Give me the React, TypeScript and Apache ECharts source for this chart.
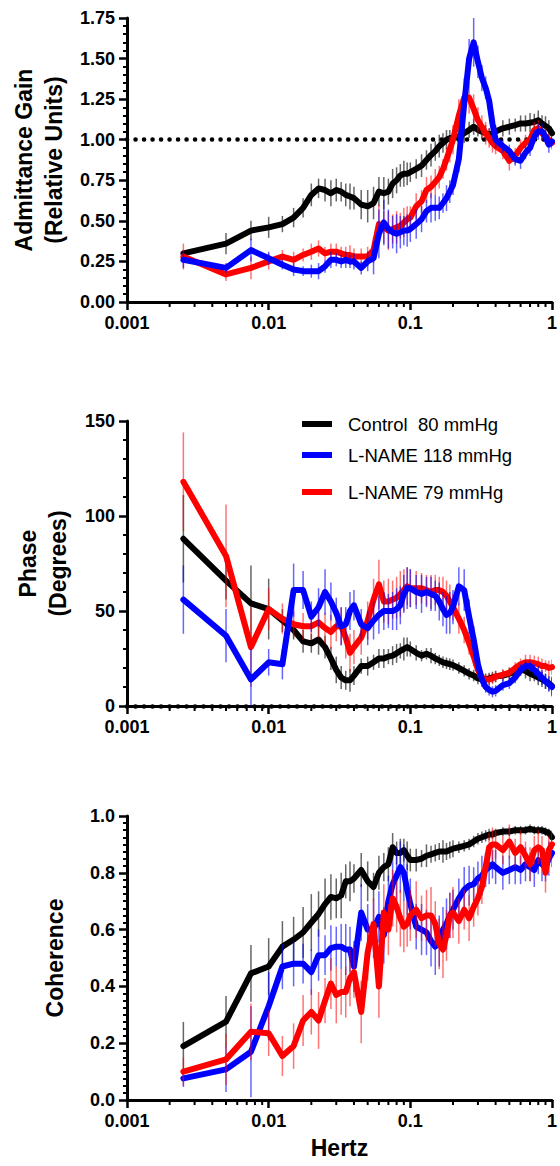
import React, { useEffect, useRef } from "react";
import * as echarts from "echarts";

// Frequencies (Hz)
const freqHz = [
  0.0025, 0.005, 0.0075, 0.01, 0.0125, 0.015, 0.0175, 0.02, 0.0225, 0.025,
  0.0275, 0.03, 0.0325, 0.035, 0.0375, 0.04, 0.045, 0.05, 0.055, 0.06,
  0.065, 0.07, 0.075, 0.08, 0.085, 0.09, 0.095, 0.1, 0.11, 0.12,
  0.13, 0.14, 0.15, 0.16, 0.17, 0.18, 0.19, 0.2, 0.22, 0.24,
  0.26, 0.28, 0.3, 0.32, 0.34, 0.36, 0.38, 0.4, 0.45, 0.5,
  0.55, 0.6, 0.65, 0.7, 0.75, 0.8, 0.85, 0.9, 0.95, 1.0,
];

const seriesNames = ["Control  80 mmHg", "L-NAME 118 mmHg", "L-NAME 79 mmHg"];
const seriesColors = ["#000000", "#0000ff", "#ff0000"];
const errColors = ["rgba(0,0,0,0.6)", "rgba(0,0,255,0.6)", "rgba(255,0,0,0.55)"];

// Admittance gain
const gainControl = [
  0.30, 0.36, 0.44, 0.46, 0.48, 0.52, 0.58, 0.66, 0.70, 0.69,
  0.67, 0.69, 0.68, 0.66, 0.65, 0.64, 0.60, 0.59, 0.61, 0.68,
  0.67, 0.68, 0.73, 0.75, 0.78, 0.79, 0.79, 0.80, 0.82, 0.84,
  0.875, 0.905, 0.93, 0.96, 0.98, 1.00, 1.01, 1.01, 1.02, 1.04,
  1.06, 1.08, 1.06, 1.05, 1.04, 1.03, 1.04, 1.05, 1.07, 1.08,
  1.09, 1.10, 1.10, 1.105, 1.11, 1.12, 1.10, 1.085, 1.07, 1.04,
];
const gainLN118 = [
  0.26, 0.21, 0.32, 0.27, 0.23, 0.20, 0.19, 0.19, 0.19, 0.22,
  0.26, 0.26, 0.25, 0.26, 0.25, 0.25, 0.21, 0.25, 0.27, 0.42,
  0.49, 0.45, 0.43, 0.42, 0.43, 0.44, 0.44, 0.45, 0.48, 0.51,
  0.56, 0.58, 0.58, 0.58, 0.61, 0.64, 0.68, 0.72, 0.88, 1.22,
  1.50, 1.60, 1.48, 1.38, 1.32, 1.24, 1.10, 1.00, 0.96, 0.93,
  0.88, 0.87, 0.92, 0.95, 1.02, 1.05, 1.05, 1.02, 0.97, 0.99,
];
const gainLN79 = [
  0.28, 0.17, 0.21, 0.25, 0.28, 0.26, 0.29, 0.31, 0.33, 0.30,
  0.31, 0.31, 0.30, 0.29, 0.29, 0.28, 0.28, 0.28, 0.32, 0.48,
  0.46, 0.44, 0.45, 0.46, 0.47, 0.49, 0.51, 0.52, 0.59, 0.62,
  0.69, 0.71, 0.74, 0.77, 0.82, 0.88, 0.94, 1.00, 1.15, 1.26,
  1.26, 1.19, 1.12, 1.08, 1.04, 1.01, 0.98, 0.96, 0.93, 0.87,
  0.90, 0.95, 0.98, 1.00, 1.06, 1.07, 1.04, 1.02, 1.00, 0.98,
];
const gainErrControl = [
  0.02, 0.065, 0.06, 0.065, 0.05, 0.06, 0.06, 0.07, 0.06, 0.07,
  0.08, 0.07, 0.06, 0.07, 0.08, 0.07, 0.09, 0.10, 0.10, 0.09,
  0.10, 0.08, 0.09, 0.08, 0.07, 0.08, 0.07, 0.06, 0.06, 0.07,
  0.06, 0.07, 0.06, 0.07, 0.06, 0.06, 0.05, 0.05, 0.05, 0.06,
  0.05, 0.05, 0.04, 0.05, 0.05, 0.04, 0.05, 0.04, 0.05, 0.05,
  0.04, 0.05, 0.05, 0.06, 0.05, 0.06, 0.05, 0.06, 0.05, 0.04,
];
const gainErrLN118 = [
  0.05, 0.03, 0.07, 0.04, 0.03, 0.04, 0.03, 0.04, 0.05, 0.04,
  0.05, 0.04, 0.04, 0.05, 0.04, 0.05, 0.04, 0.06, 0.10, 0.15,
  0.14, 0.12, 0.10, 0.12, 0.10, 0.09, 0.10, 0.08, 0.09, 0.08,
  0.07, 0.09, 0.08, 0.07, 0.06, 0.08, 0.07, 0.06, 0.08, 0.10,
  0.12, 0.15, 0.10, 0.08, 0.07, 0.06, 0.05, 0.05, 0.04, 0.04,
  0.04, 0.05, 0.04, 0.05, 0.04, 0.05, 0.05, 0.04, 0.05, 0.04,
];
const gainErrLN79 = [
  0.08, 0.04, 0.07, 0.05, 0.04, 0.05, 0.04, 0.05, 0.05, 0.04,
  0.05, 0.05, 0.04, 0.05, 0.06, 0.05, 0.05, 0.06, 0.08, 0.12,
  0.10, 0.12, 0.09, 0.10, 0.08, 0.09, 0.08, 0.07, 0.08, 0.07,
  0.08, 0.07, 0.08, 0.07, 0.06, 0.07, 0.08, 0.09, 0.10, 0.12,
  0.10, 0.09, 0.08, 0.07, 0.07, 0.06, 0.06, 0.05, 0.05, 0.06,
  0.05, 0.05, 0.05, 0.04, 0.05, 0.05, 0.04, 0.05, 0.04, 0.04,
];

// Phase (degrees)
const phaseControl = [
  88, 66, 54, 51, 45, 40, 34, 33, 35, 31,
  25, 19, 15, 13.5, 13.5, 16, 21, 21, 23, 25,
  25, 26, 26.5, 27.7, 29, 30, 31, 30, 28, 26.5,
  27.5, 26.5, 25, 24, 23, 22.5, 22, 21.5, 20, 18.5,
  17, 16, 14.5, 14, 14, 14.5, 15, 15.5, 16, 17,
  18, 19, 18.5, 17, 16, 15, 14, 13, 12, 10.5,
];
const phaseLN118 = [
  56, 37, 14, 23, 22, 61, 61, 47, 52, 60,
  55, 49, 42, 43, 50, 53, 43, 41, 45, 48,
  50, 50, 50, 51, 53, 59, 62, 62, 60, 59,
  60, 59, 58, 55, 51, 48, 49, 52, 63, 61,
  47, 35, 22, 14, 10, 8.5, 7.5, 8, 11, 12,
  15, 19, 21, 21, 19, 17, 15, 13, 11.5, 10,
];
const phaseLN79 = [
  118, 79, 31, 51, 46, 43, 42, 42, 44, 41,
  39, 42, 42, 36, 28, 31, 36, 45, 56, 64,
  55, 55, 56, 57, 59, 61, 63, 62, 62, 62,
  61, 60, 61, 61, 60, 58, 55, 52, 46, 40,
  33, 26, 19, 15, 14, 14, 14.5, 15.5, 16.5, 17.5,
  20, 22, 23, 23, 22.5, 22, 21, 21, 20, 20.5,
];
const phaseErrControl = [
  23, 10, 20, 16, 6, 5, 6, 5, 8, 6,
  6, 7, 6, 5, 6, 5, 4, 5, 4, 5,
  5, 4, 5, 5, 4, 6, 5, 4, 4, 3,
  3, 4, 3, 3, 3, 3, 3, 3, 3, 3,
  3, 3, 3, 3, 3, 3, 3, 3, 3, 3,
  3, 3, 4, 4, 3, 4, 4, 4, 4, 5,
];
const phaseErrLN118 = [
  18, 14, 16, 7, 8, 14, 10, 8, 10, 12,
  10, 8, 10, 9, 10, 8, 8, 9, 10, 10,
  10, 9, 10, 11, 10, 10, 11, 10, 9, 10,
  8, 9, 8, 10, 9, 10, 11, 9, 10, 11,
  9, 7, 5, 4, 3, 3, 3, 3, 3, 3,
  3, 3, 3, 3, 3, 4, 4, 4, 4, 5,
];
const phaseErrLN79 = [
  26, 27, 21, 11, 8, 7, 7, 7, 8, 8,
  9, 8, 10, 11, 10, 9, 9, 10, 11, 13,
  11, 12, 10, 11, 12, 11, 10, 10, 9, 8,
  8, 9, 8, 7, 8, 8, 9, 7, 8, 7,
  6, 5, 4, 4, 3, 3, 3, 3, 3, 3,
  3, 3, 4, 4, 4, 4, 4, 3, 4, 4,
];

// Coherence
const cohControl = [
  0.19, 0.276, 0.446, 0.47, 0.54, 0.565, 0.59, 0.625, 0.655, 0.69,
  0.715, 0.71, 0.72, 0.77, 0.77, 0.78, 0.81, 0.77, 0.75, 0.80,
  0.82, 0.83, 0.89, 0.87, 0.87, 0.88, 0.86, 0.845, 0.845, 0.85,
  0.86, 0.865, 0.87, 0.875, 0.875, 0.875, 0.88, 0.885, 0.89, 0.895,
  0.90, 0.91, 0.92, 0.925, 0.93, 0.935, 0.935, 0.94, 0.945, 0.945,
  0.95, 0.95, 0.95, 0.955, 0.95, 0.95, 0.95, 0.945, 0.94, 0.925,
];
const cohLN118 = [
  0.076, 0.108, 0.17, 0.33, 0.47, 0.48, 0.48, 0.45, 0.51, 0.51,
  0.535, 0.54, 0.54, 0.53, 0.53, 0.47, 0.66, 0.60, 0.60, 0.645,
  0.58, 0.70, 0.76, 0.79, 0.82, 0.80, 0.74, 0.69, 0.61, 0.60,
  0.59, 0.56, 0.54, 0.56, 0.60, 0.62, 0.65, 0.67, 0.71, 0.74,
  0.755, 0.76, 0.78, 0.79, 0.81, 0.82, 0.83, 0.82, 0.80, 0.81,
  0.82, 0.81, 0.83, 0.82, 0.81, 0.845, 0.83, 0.82, 0.85, 0.87,
];
const cohLN79 = [
  0.10, 0.143, 0.24, 0.235, 0.155, 0.19, 0.28, 0.31, 0.28, 0.35,
  0.41, 0.37, 0.38, 0.38, 0.43, 0.45, 0.31, 0.52, 0.62, 0.40,
  0.66, 0.60, 0.71, 0.68, 0.64, 0.61, 0.62, 0.65, 0.67, 0.64,
  0.65, 0.65, 0.62, 0.55, 0.53, 0.58, 0.65, 0.66, 0.63, 0.67,
  0.64, 0.68, 0.71, 0.75, 0.82, 0.89, 0.90, 0.90, 0.88, 0.91,
  0.87, 0.89, 0.86, 0.83, 0.88, 0.89, 0.88, 0.80, 0.88, 0.90,
];
const cohErrControl = [
  0.085, 0.09, 0.10, 0.10, 0.09, 0.08, 0.09, 0.10, 0.08, 0.09,
  0.08, 0.07, 0.08, 0.06, 0.07, 0.05, 0.06, 0.07, 0.05, 0.06,
  0.05, 0.06, 0.05, 0.04, 0.05, 0.04, 0.05, 0.04, 0.04, 0.03,
  0.04, 0.03, 0.03, 0.03, 0.04, 0.03, 0.03, 0.03, 0.02, 0.02,
  0.02, 0.02, 0.02, 0.02, 0.02, 0.02, 0.015, 0.015, 0.015, 0.015,
  0.015, 0.015, 0.015, 0.015, 0.015, 0.015, 0.015, 0.015, 0.015, 0.01,
];
const cohErrLN118 = [
  0.03, 0.08, 0.16, 0.12, 0.08, 0.08, 0.07, 0.08, 0.09, 0.07,
  0.08, 0.07, 0.08, 0.09, 0.08, 0.09, 0.10, 0.09, 0.10, 0.09,
  0.10, 0.09, 0.08, 0.10, 0.09, 0.10, 0.09, 0.09, 0.08, 0.09,
  0.08, 0.09, 0.10, 0.09, 0.08, 0.09, 0.08, 0.07, 0.07, 0.08,
  0.07, 0.06, 0.06, 0.07, 0.06, 0.06, 0.05, 0.06, 0.06, 0.05,
  0.06, 0.05, 0.06, 0.05, 0.06, 0.05, 0.06, 0.05, 0.06, 0.05,
];
const cohErrLN79 = [
  0.05, 0.09, 0.10, 0.08, 0.07, 0.08, 0.09, 0.08, 0.10, 0.08,
  0.09, 0.10, 0.08, 0.09, 0.10, 0.09, 0.11, 0.10, 0.09, 0.11,
  0.10, 0.09, 0.10, 0.09, 0.10, 0.09, 0.08, 0.09, 0.10, 0.08,
  0.09, 0.10, 0.08, 0.09, 0.10, 0.09, 0.08, 0.09, 0.08, 0.07,
  0.08, 0.07, 0.06, 0.06, 0.05, 0.05, 0.06, 0.05, 0.05, 0.06,
  0.05, 0.06, 0.05, 0.06, 0.05, 0.06, 0.05, 0.07, 0.05, 0.05,
];

// Axis ticks
const xTickLabels = ["0.001", "0.01", "0.1", "1"];
const xMinorTicks = [
  0.002, 0.003, 0.004, 0.005, 0.006, 0.007, 0.008, 0.009,
  0.02, 0.03, 0.04, 0.05, 0.06, 0.07, 0.08, 0.09,
  0.2, 0.3, 0.4, 0.5, 0.6, 0.7, 0.8, 0.9,
];
const yAxisNames = ["Admittance Gain\n(Relative Units)", "Phase\n(Degrees)", "Coherence"];
const xAxisName = "Hertz";

const LABEL_FONT = "'Liberation Sans', Arial, sans-serif";

export default function App() {
  const ref = useRef<HTMLDivElement>(null);

  useEffect(() => {
    if (!ref.current) return;
    const chart = echarts.init(ref.current, null, { renderer: "svg" });

    const panels = [
      {
        values: [gainControl, gainLN118, gainLN79],
        errs: [gainErrControl, gainErrLN118, gainErrLN79],
        order: [0, 2, 1],
        refLine: 1,
      },
      {
        values: [phaseControl, phaseLN118, phaseLN79],
        errs: [phaseErrControl, phaseErrLN118, phaseErrLN79],
        order: [0, 2, 1],
        refLine: 0,
      },
      {
        values: [cohControl, cohLN118, cohLN79],
        errs: [cohErrControl, cohErrLN118, cohErrLN79],
        order: [0, 1, 2],
        refLine: null as number | null,
      },
    ];

    const grids = [
      { left: 127, right: 7, top: 18, height: 284 },
      { left: 127, right: 7, top: 421, height: 285 },
      { left: 127, right: 7, top: 816, height: 284 },
    ];

    const axisLineStyle = { color: "#000", width: 3 };
    const tickLabelStyle = {
      color: "#000",
      fontFamily: LABEL_FONT,
      fontWeight: "bold" as const,
      fontSize: 18,
    };

    const xAxes = grids.map((_, i) => ({
      type: "log" as const,
      logBase: 10,
      gridIndex: i,
      min: 0.001,
      max: 1,
      axisLine: { show: true, lineStyle: axisLineStyle },
      axisTick: { show: true, length: 8, lineStyle: { color: "#000", width: 2.5 } },
      axisLabel: {
        ...tickLabelStyle,
        margin: 12,
        showMaxLabel: true,
        showMinLabel: true,
        formatter: (v: number) => {
          const idx = Math.round(Math.log10(v)) + 3;
          return xTickLabels[idx] ?? "";
        },
      },
      splitLine: { show: false },
      name: i === 2 ? xAxisName : "",
      nameLocation: "middle" as const,
      nameGap: 36,
      nameTextStyle: {
        color: "#000",
        fontFamily: LABEL_FONT,
        fontWeight: "bold" as const,
        fontSize: 23,
      },
    }));

    const yCfg = [
      { min: 0, max: 1.75, interval: 0.25, minor: 5, fmt: (v: number) => v.toFixed(2), gap: 54 },
      { min: 0, max: 150, interval: 50, minor: 5, fmt: (v: number) => String(Math.round(v)), gap: 54 },
      { min: 0, max: 1.0, interval: 0.2, minor: 8, fmt: (v: number) => v.toFixed(1), gap: 57 },
    ];

    const yAxes = yCfg.map((c, i) => ({
      type: "value" as const,
      gridIndex: i,
      min: c.min,
      max: c.max,
      interval: c.interval,
      axisLine: { show: true, lineStyle: axisLineStyle },
      axisTick: { show: true, length: 8, lineStyle: { color: "#000", width: 2.5 } },
      minorTick: { show: true, splitNumber: c.minor, length: 4, lineStyle: { color: "#000", width: 2 } },
      axisLabel: { ...tickLabelStyle, margin: 12, formatter: c.fmt },
      splitLine: { show: false },
      name: yAxisNames[i],
      nameLocation: "middle" as const,
      nameGap: c.gap,
      nameTextStyle: {
        color: "#000",
        fontFamily: LABEL_FONT,
        fontWeight: "bold" as const,
        fontSize: 23,
        lineHeight: 30,
        align: "center" as const,
      },
    }));

    const series: any[] = [];
    panels.forEach((panel, p) => {
      panel.order.forEach((k, rank) => {
        const vals = panel.values[k];
        const errs = panel.errs[k];
        const line: any = {
          type: "line",
          name: seriesNames[k],
          xAxisIndex: p,
          yAxisIndex: p,
          data: freqHz.map((f, i) => [f, vals[i]]),
          showSymbol: false,
          symbol: "none",
          silent: true,
          z: 3 + rank * 2,
          lineStyle: { color: seriesColors[k], width: 6, join: "round", cap: "round" },
          itemStyle: { color: seriesColors[k] },
        };
        if (rank === 0 && panel.refLine !== null) {
          line.markLine = {
            silent: true,
            symbol: ["none", "none"],
            label: { show: false },
            lineStyle: { color: "#000", width: 4.5, type: [0.1, 8.4], cap: "round", opacity: 1 },
            data: [{ yAxis: panel.refLine }],
          };
        }
        series.push(line);
        const col = errColors[k];
        series.push({
          type: "custom",
          xAxisIndex: p,
          yAxisIndex: p,
          silent: true,
          clip: true,
          z: 4 + rank * 2,
          data: freqHz.map((f, i) => [f, vals[i], errs[i]]),
          renderItem: (_params: any, api: any) => {
            const x = api.value(0);
            const y = api.value(1);
            const e = api.value(2);
            const a = api.coord([x, y - e]);
            const b = api.coord([x, y + e]);
            return {
              type: "line",
              shape: { x1: a[0], y1: a[1], x2: b[0], y2: b[1] },
              style: { stroke: col, lineWidth: 1.5 },
            };
          },
        });
      });
      // log-axis minor ticks (2..9 per decade)
      series.push({
        type: "custom",
        xAxisIndex: p,
        yAxisIndex: p,
        silent: true,
        clip: false,
        z: 20,
        data: xMinorTicks.map((v) => [v, 0]),
        renderItem: (_params: any, api: any) => {
          const pt = api.coord([api.value(0), api.value(1)]);
          return {
            type: "line",
            shape: { x1: pt[0], y1: pt[1] + 1, x2: pt[0], y2: pt[1] + 5 },
            style: { stroke: "#000", lineWidth: 2 },
          };
        },
      });
    });

    const legendRows = [424, 455, 492];
    const legendGraphics: any[] = [];
    seriesNames.forEach((nm, k) => {
      legendGraphics.push({
        type: "line",
        silent: true,
        shape: { x1: 302, y1: legendRows[k], x2: 332, y2: legendRows[k] },
        style: { stroke: seriesColors[k], lineWidth: 6 },
      });
      legendGraphics.push({
        type: "text",
        silent: true,
        x: 348,
        y: legendRows[k],
        style: {
          text: nm,
          fill: "#000",
          fontFamily: LABEL_FONT,
          fontSize: 18.5,
          verticalAlign: "middle",
          align: "left",
        },
      });
    });

    chart.setOption({
      animation: false,
      backgroundColor: "#ffffff",
      grid: grids,
      xAxis: xAxes,
      yAxis: yAxes,
      series,
      graphic: legendGraphics,
    });

    return () => chart.dispose();
  }, []);

  return (
    <div
      ref={ref}
      style={{ position: "absolute", left: 0, top: 0, width: 560, height: 1166 }}
    />
  );
}
